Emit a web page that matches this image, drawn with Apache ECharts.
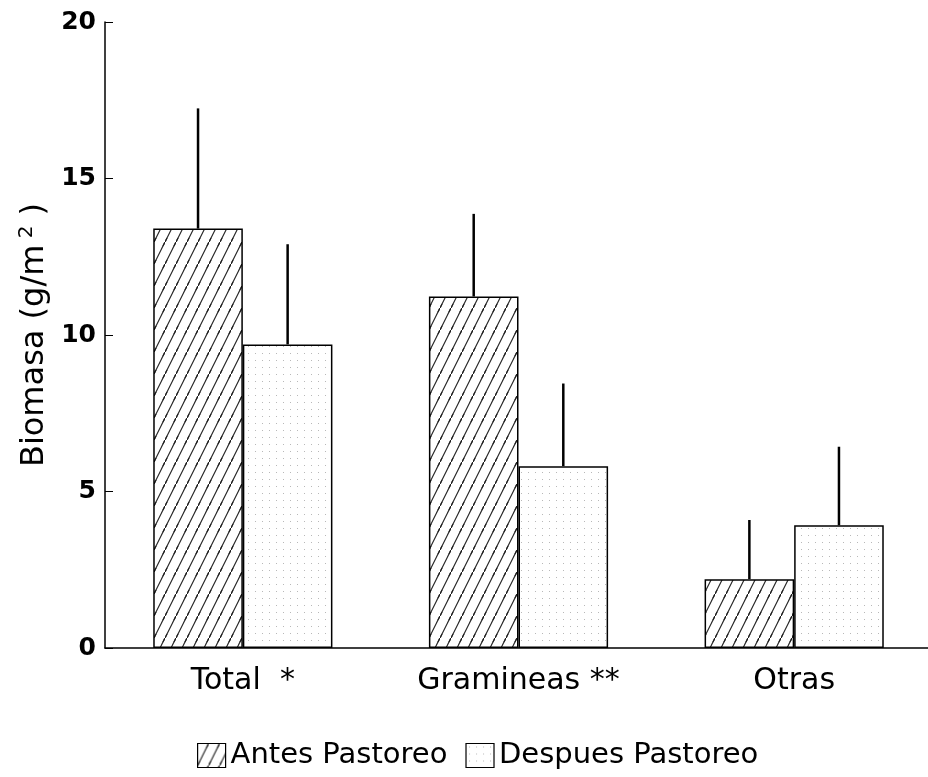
<!DOCTYPE html>
<html>
<head>
<meta charset="utf-8">
<style>
  html, body { margin: 0; padding: 0; background: #fff; }
  #chart { width: 928px; height: 777px; }
</style>
<script src="https://cdn.jsdelivr.net/npm/echarts@6/dist/echarts.min.js"></script>
</head>
<body>
<div id="chart"></div>
<script>
// Biomass before and after grazing, with one-sided error bars (+SD)
const categories = ['Total  *', 'Gramineas **', 'Otras'];
const antesMean = [13.4, 11.23, 2.2];
const antesSD = [3.84, 2.64, 1.89];
const despuesMean = [9.7, 5.81, 3.92];
const despuesSD = [3.2, 2.64, 2.51];
const yTicks = [0, 5, 10, 15, 20];

// Diagonal hatch tile for "Antes Pastoreo"
function hatchPattern() {
  const w = 11, h = 22;
  const c = document.createElement('canvas');
  c.width = w; c.height = h;
  const g = c.getContext('2d');
  g.strokeStyle = '#222';
  g.lineWidth = 1.2;
  for (const [dx, dy] of [[0, 0], [w, -h], [-w, h]]) {
    g.beginPath();
    g.moveTo(-2 + dx, h + 4 + dy);
    g.lineTo(w + 2 + dx, -4 + dy);
    g.stroke();
  }
  return c;
}

// Sparse dot tile for "Despues Pastoreo"
function dotPattern() {
  const c = document.createElement('canvas');
  c.width = 7; c.height = 7;
  const g = c.getContext('2d');
  g.fillStyle = '#b8b8b8';
  g.fillRect(3, 3, 1, 1);
  return c;
}

const hatchFill = { image: hatchPattern(), repeat: 'repeat' };
const dotFill = { image: dotPattern(), repeat: 'repeat' };

const CAT_GAP = 0.35;

function errorSeries(name, means, sds, side) {
  return {
    name: name,
    type: 'custom',
    z: 5,
    silent: true,
    data: means.map((m, i) => [i, m, m + sds[i]]),
    encode: { x: 0, y: [1, 2] },
    renderItem: function (params, api) {
      const idx = api.value(0);
      const band = api.size([1, 0])[0];
      const barW = band * (1 - CAT_GAP) / 2;
      const cx = api.coord([idx, 0])[0] + side * barW / 2;
      const yTop = api.coord([idx, api.value(2)])[1];
      const yBar = api.coord([idx, api.value(1)])[1];
      return {
        type: 'line',
        shape: { x1: cx, y1: yBar, x2: cx, y2: yTop },
        style: { stroke: '#000', lineWidth: 2.5 }
      };
    }
  };
}

const chart = echarts.init(document.getElementById('chart'));
chart.setOption({
  animation: false,
  backgroundColor: '#fff',
  grid: { left: 105, right: -4, top: 22, bottom: 129, outerBoundsMode: 'none' },
  legend: {
    data: ['Antes Pastoreo', 'Despues Pastoreo'],
    left: 192,
    top: 736,
    itemWidth: 28,
    itemHeight: 24,
    itemGap: 18,
    icon: 'rect',
    itemStyle: { borderColor: '#000', borderWidth: 1.2 },
    textStyle: { fontFamily: 'DejaVu Sans', fontSize: 29, color: '#000' }
  },
  xAxis: {
    type: 'category',
    data: categories,
    axisLine: { lineStyle: { color: '#000', width: 1.5 } },
    axisTick: { show: false },
    axisLabel: {
      fontFamily: 'DejaVu Sans', fontSize: 30, color: '#000', margin: 18
    }
  },
  yAxis: {
    type: 'value',
    min: yTicks[0],
    max: yTicks[yTicks.length - 1],
    interval: 5,
    name: '{a|Biomasa (g/m}{s| 2}{a| )}',
    nameLocation: 'middle',
    nameGap: 52,
    nameRotate: 90,
    nameTextStyle: {
      rich: {
        a: { fontFamily: 'DejaVu Sans', fontSize: 32, color: '#000', lineHeight: 36 },
        s: { fontFamily: 'DejaVu Sans', fontSize: 20, color: '#000', lineHeight: 36, verticalAlign: 'top' }
      }
    },
    axisLine: { show: true, lineStyle: { color: '#000', width: 1.5 } },
    axisTick: { show: true, inside: true, length: 8, lineStyle: { color: '#000', width: 1 } },
    splitLine: { show: false },
    axisLabel: {
      fontFamily: 'DejaVu Sans', fontWeight: 'bold', fontSize: 25, color: '#000', margin: 9
    }
  },
  series: [
    {
      name: 'Antes Pastoreo',
      type: 'bar',
      data: antesMean,
      barGap: '0%',
      barCategoryGap: (CAT_GAP * 100) + '%',
      itemStyle: { color: hatchFill, borderColor: '#000', borderWidth: 1.5 }
    },
    {
      name: 'Despues Pastoreo',
      type: 'bar',
      data: despuesMean,
      barGap: '0%',
      barCategoryGap: (CAT_GAP * 100) + '%',
      itemStyle: { color: dotFill, borderColor: '#000', borderWidth: 1.5 }
    },
    errorSeries('Antes SD', antesMean, antesSD, -1),
    errorSeries('Despues SD', despuesMean, despuesSD, 1)
  ]
});
</script>
</body>
</html>
